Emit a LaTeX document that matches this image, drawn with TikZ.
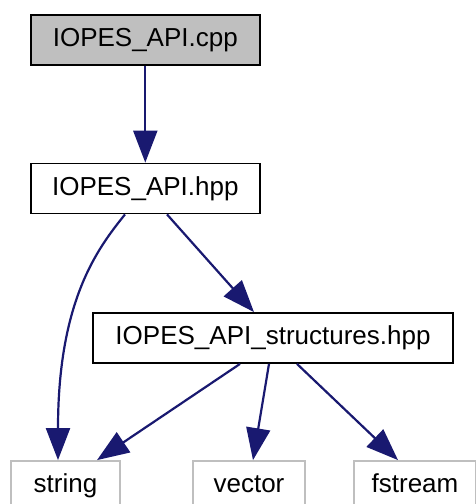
\documentclass[tikz,border=0pt]{standalone}
\usepackage{fontspec}
\setmainfont{Liberation Sans}
\usetikzlibrary{arrows.meta}
\definecolor{edgeblue}{HTML}{191970}
\definecolor{boxgray}{HTML}{BFBFBF}
\tikzset{
  file/.style={draw=black, line width=1.8pt, rectangle, inner sep=0pt,
    minimum height=50pt, text height=18pt, text depth=5pt,
    font=\fontsize{26}{30}\selectfont},
  mainfile/.style={file, fill=boxgray},
  extfile/.style={file, draw=boxgray},
  dep/.style={draw=edgeblue, line width=2.2pt,
    -{Triangle[length=32pt,width=24pt]}},
}
\begin{document}
\begin{tikzpicture}[x=1pt, y=-1pt]
  \useasboundingbox (0,0) rectangle (476,504);
  \begin{scope}
    \clip (0,0) rectangle (476,504);
    % source and headers
    \node[mainfile, minimum width=229pt] (cpp) at (145.3,39.7) {IOPES\_API.cpp};
    \node[file, minimum width=229pt] (hpp) at (145.3,188.5) {IOPES\_API.hpp};
    \node[file, minimum width=360pt] (str) at (273,338) {IOPES\_API\_structures.hpp};
    % standard library headers
    \node[extfile, minimum width=109pt] (string) at (65.5,486) {string};
    \node[extfile, minimum width=112pt] (vector) at (249,486) {vector};
    \node[extfile, minimum width=122pt] (fstream) at (415,486) {fstream};
    % include dependencies
    \draw[dep] (cpp.south) -- (hpp.north);
    \draw[dep] ([xshift=-20.3pt]hpp.south) .. controls (98,248) and (58,300) .. ([xshift=-7.5pt]string.north);
    \draw[dep] ([xshift=21.7pt]hpp.south) -- ([xshift=-19pt]str.north);
    \draw[dep] ([xshift=-33pt]str.south) -- ([xshift=31.5pt]string.north);
    \draw[dep] ([xshift=-4pt]str.south) -- ([xshift=4pt]vector.north);
    \draw[dep] ([xshift=24pt]str.south) -- ([xshift=-17pt]fstream.north);
  \end{scope}
\end{tikzpicture}
\end{document}
